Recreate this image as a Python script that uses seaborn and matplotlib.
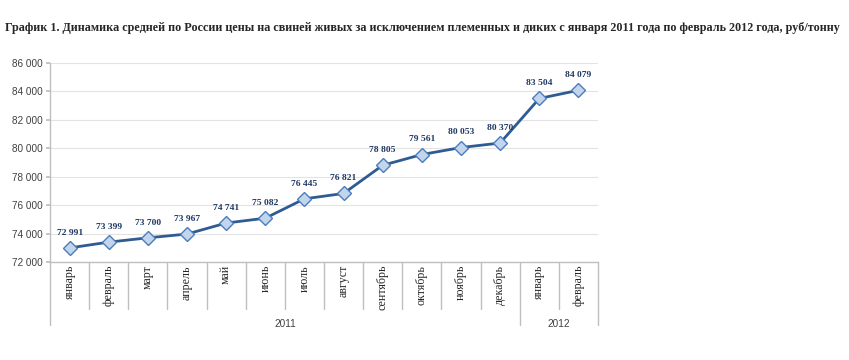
import matplotlib

matplotlib.use("Agg")
import matplotlib.pyplot as plt
import matplotlib.transforms as mtransforms
import pandas as pd
import seaborn as sns

months = ["январь", "февраль", "март", "апрель", "май", "июнь", "июль",
          "август", "сентябрь", "октябрь", "ноябрь", "декабрь",
          "январь", "февраль"]
years = ["2011"] * 12 + ["2012"] * 2
prices = [72991, 73399, 73700, 73967, 74741, 75082, 76445,
          76821, 78805, 79561, 80053, 80370, 83504, 84079]
y_ticks = [72000, 74000, 76000, 78000, 80000, 82000, 84000, 86000]

title = ("График 1. Динамика средней по России цены на свиней живых за исключением "
         "племенных и диких с января 2011 года по февраль 2012 года, руб/тонну")

df = pd.DataFrame({"pos": range(len(months)), "month": months,
                   "year": years, "price": prices})

sns.set_theme(style="white")
plt.rcParams["font.family"] = ["Liberation Sans", "DejaVu Sans"]

fig = plt.figure(figsize=(8.49, 3.6), dpi=100)
ax = fig.add_axes([50 / 849, 1 - 262 / 360, 548 / 849, 199 / 360])

sns.lineplot(data=df, x="pos", y="price", ax=ax, color="#2F5B93", linewidth=2.0,
             marker="D", markersize=7, markerfacecolor="#C3D5EC",
             markeredgecolor="#4A7EBB", markeredgewidth=1.0)

ax.set_xlim(-0.5, len(months) - 0.5)
ax.set_ylim(y_ticks[0], y_ticks[-1])
ax.set_yticks(y_ticks)
ax.set_yticklabels([f"{v:,}".replace(",", " ") for v in y_ticks],
                   fontsize=7.2, color="#404040")
ax.set_xticks([])
ax.set_xlabel("")
ax.set_ylabel("")
ax.grid(axis="y", color="#E3E3E3", linewidth=0.8)
ax.tick_params(axis="y", length=3, color="#BFBFBF", left=True, pad=2)
for side in ("top", "right"):
    ax.spines[side].set_visible(False)
for side in ("left", "bottom"):
    ax.spines[side].set_color("#BFBFBF")
    ax.spines[side].set_linewidth(1.0)

# value labels
for x, v in zip(df["pos"], df["price"]):
    ax.annotate(f"{v:,}".replace(",", " "), (x, v), xytext=(0, 11),
                textcoords="offset points", ha="center", va="center",
                fontsize=6.8, fontweight="bold", color="#1F3864",
                family="Liberation Serif")

# category axis: month labels, separators, year groups
trans = mtransforms.blended_transform_factory(ax.transData, ax.transAxes)
px = 1 / 199
for x, m in zip(df["pos"], df["month"]):
    ax.text(x, -3 * px, m, transform=trans, rotation=90, ha="center", va="top",
            fontsize=8.6, color="#262626", family="Liberation Serif")

year_starts = [0] + [i for i in range(1, len(years)) if years[i] != years[i - 1]]
year_ends = year_starts[1:] + [len(years)]
for i in range(len(months) + 1):
    long = i in year_starts or i == len(months)
    depth = -63 * px if long else -47 * px
    ax.plot([i - 0.5, i - 0.5], [0, depth], transform=trans, clip_on=False,
            color="#BFBFBF", linewidth=1.0)
for s, e in zip(year_starts, year_ends):
    ax.text((s + e - 1) / 2, -62 * px, years[s], transform=trans, ha="center",
            va="center", fontsize=7.2, color="#404040")

# title: shrink the font until it fits the same width as in the reference
t = fig.text(5 / 849, 1 - 28 / 360, title, ha="left", va="center", fontsize=9.2,
             fontweight="bold", family="Liberation Serif")
renderer = fig.canvas.get_renderer()
w = t.get_window_extent(renderer).width
t.set_fontsize(9.2 * 825 / w)

fig.savefig("out.png", dpi=100)
